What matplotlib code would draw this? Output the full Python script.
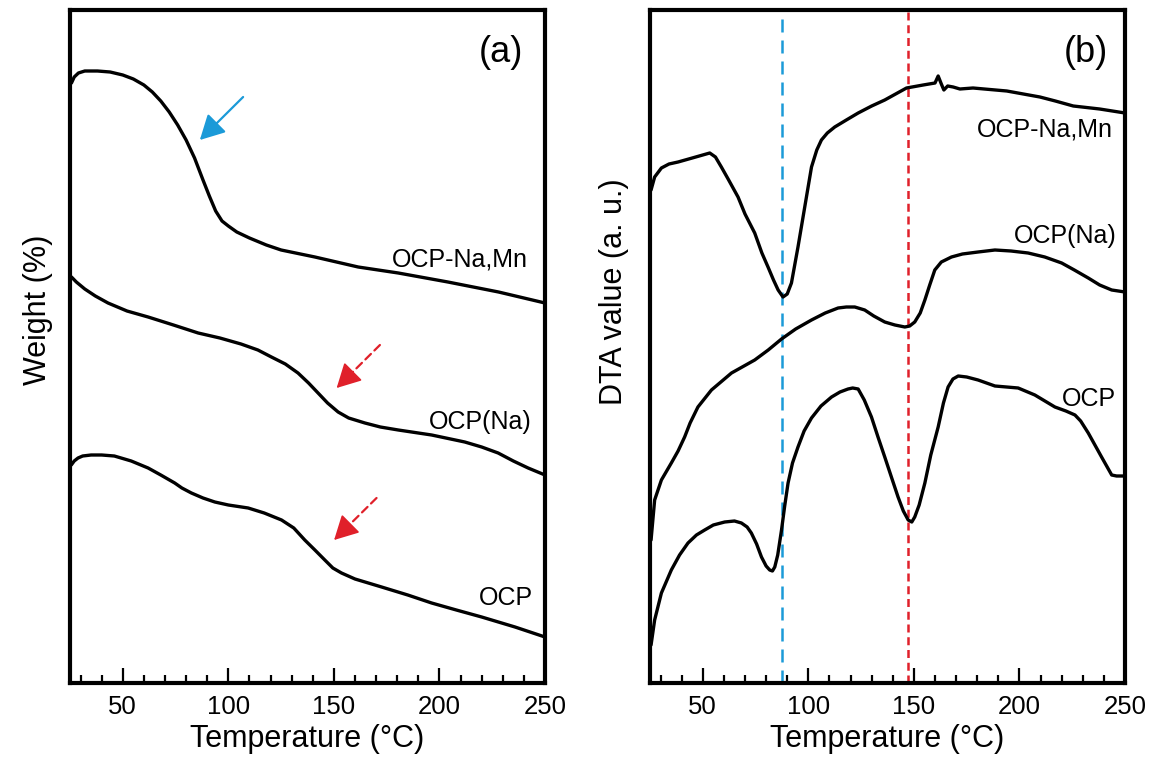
import numpy as np
import matplotlib.pyplot as plt
from matplotlib.ticker import MultipleLocator

plt.rcParams['font.family'] = ['Liberation Sans', 'DejaVu Sans']

# ---------------- (a) TG curves (arbitrary offset units) ----------------
t_namn = [25.7, 27, 29, 32, 38, 44, 50, 55, 60, 64, 68, 72, 76, 80, 84, 88, 91, 94, 97,
          100, 104, 110, 118, 125, 141, 161.5, 180.5, 204, 228, 250]
w_namn = [600, 606, 610, 612, 612, 611, 608, 604, 598, 591, 582, 571, 558, 543, 525, 503, 487, 472, 462,
          457, 451, 445, 438, 433, 426, 416, 410, 401, 391, 380]

t_na = [25.7, 28, 32, 37, 43, 52, 62, 74, 85.7, 96, 106, 114, 120.4, 127, 133, 138, 142.5, 147,
        152, 157, 164.7, 172, 180.5, 196.3, 212, 220, 227.8, 235, 242, 250]
w_na = [406, 401, 394, 387, 380, 372, 366, 358, 350, 345, 339, 333, 326, 319, 310, 300, 290, 280,
        271, 265, 260, 256, 253, 248, 241, 236, 230, 222, 215, 208]

t_ocp = [25.6, 27, 28.8, 31, 35, 40, 46, 54, 62, 68, 74.6, 78, 82.5, 88, 93.6, 100, 109.4, 117, 125.2,
         131, 136.2, 141, 145.7, 149.5, 153.6, 160, 172.6, 185, 196.3, 208, 220, 235.8, 250]
w_ocp = [218, 222, 225, 227, 228, 228, 227, 222, 215, 208, 200, 195, 190, 185, 181, 178, 175, 170, 163,
         155, 143, 133, 123, 115, 110, 104, 96, 88, 80, 73, 66, 56, 46]

# ---------------- (b) DTA curves ----------------
t_d_namn = [25.5, 27.2, 30.4, 34, 38.3, 45, 53.3, 56, 58.8, 62, 66.7, 70, 74.6, 78, 80.9, 83.5, 85.7, 88,
            90, 92, 95.1, 98.3, 101.5, 104, 106.2, 109, 112.5, 118, 123.6, 130, 136.2, 146.5, 154.4, 160,
            161.5, 163, 164.2, 166, 168.6, 171.8, 178, 194, 209.7, 217, 225.5, 238, 250]
d_namn = [493, 506, 515, 519, 521, 525, 530, 526, 516, 504, 486, 469, 450, 430, 416, 403, 393, 386,
          389, 400, 436, 476, 516, 533, 543, 550, 556, 563, 570, 577, 583, 595, 598, 600,
          607, 599, 593, 597, 596, 594, 595, 592, 586, 582, 577, 574, 570]

t_d_na = [25.5, 27.2, 30.4, 35.1, 38.3, 41.4, 44, 47.7, 54.1, 63.6, 74.6, 81, 87.3, 94, 101.5, 108, 114.1,
          118, 122, 126.7, 131, 136.2, 141, 145.7, 148, 150.4, 153, 155.2, 157.5, 159.9, 163, 167.8,
          173, 180.4, 188.4, 196, 204.1, 212, 220, 226, 232.6, 238, 243.7, 250]
d_na = [143, 183, 203, 220, 232, 246, 260, 276, 293, 310, 323, 333, 344, 354, 363, 370, 375,
        376, 376, 373, 367, 361, 358, 356, 357, 361, 370, 383, 398, 413, 421, 426,
        429, 431, 433, 432, 430, 426, 420, 413, 405, 398, 393, 391]

t_d_ocp = [25.5, 27.2, 30.4, 35.1, 39, 43, 47, 50.9, 55, 60.4, 65, 68.3, 71, 73, 75.5, 77.8, 80, 81.7,
           83, 84.1, 85.5, 87.3, 88.8, 90.4, 92.5, 95.1, 98, 101.5, 106, 111, 115, 118.8, 121,
           123.6, 126.5, 129.9, 133, 136.2, 139.5, 142.5, 145, 147.3, 149, 150.4, 152.5, 155.2,
           158, 161.5, 164, 166.2, 168.5, 171, 175, 180.4, 188.4, 199.4, 207.3, 216.8, 222, 226.3,
           229, 232.6, 238.9, 243.7, 246, 250]
d_d_ocp = [38, 63, 90, 113, 128, 140, 148, 153, 158, 161, 162, 160, 156, 150, 139, 126, 117, 113,
           112, 116, 128, 153, 177, 200, 220, 236, 252, 265, 277, 286, 291, 294, 295,
           294, 283, 266, 246, 226, 205, 186, 172, 163, 161, 166, 178, 200,
           228, 256, 280, 296, 304, 307, 306, 303, 297, 295, 288, 276, 272, 268,
           262, 250, 226, 208, 207, 207]

peak_blue = 87.7
peak_red = 147.0

# arrow annotations in panel (a): (tail, head)
blue_arrow = ((107, 586), (86.5, 543))
red_arrows = [((171.8, 338), (151.3, 295)), ((170.2, 185), (150.1, 143))]

BLACK = '#000000'
BLUE = '#1b9ad8'
RED = '#e0202a'
HEAD = '-|>,head_length=0.75,head_width=0.4'

fig = plt.figure(figsize=(11.53, 7.65), dpi=100)
ax1 = fig.add_axes([70 / 1153, 82 / 765, 475 / 1153, 673 / 765])
ax2 = fig.add_axes([650 / 1153, 82 / 765, 475 / 1153, 673 / 765])

for ax in (ax1, ax2):
    ax.set_xlim(25, 250)
    ax.set_ylim(0, 673)
    ax.xaxis.set_major_locator(MultipleLocator(50))
    ax.xaxis.set_minor_locator(MultipleLocator(10))
    ax.tick_params(axis='x', which='major', direction='in', length=11, width=1.6,
                   labelsize=18.5, pad=9, top=False)
    ax.tick_params(axis='x', which='minor', direction='in', length=5.5, width=1.6, top=False)
    ax.set_yticks([])
    for sp in ax.spines.values():
        sp.set_linewidth(3)
    ax.set_xlabel('Temperature (°C)', fontsize=22, labelpad=3)

# (a)
for t, w in ((t_namn, w_namn), (t_na, w_na), (t_ocp, w_ocp)):
    ax1.plot(t, w, color=BLACK, lw=2.4, solid_joinstyle='round', solid_capstyle='round')

ax1.annotate('', xy=blue_arrow[1], xytext=blue_arrow[0],
             arrowprops=dict(arrowstyle=HEAD, color=BLUE, lw=1.6, mutation_scale=20,
                             shrinkA=0, shrinkB=0))
for tail, head in red_arrows:
    # dashed shaft
    ax1.annotate('', xy=head, xytext=tail,
                 arrowprops=dict(arrowstyle='-', color=RED, lw=1.6, ls=(0, (3.5, 2.2)),
                                 shrinkA=0, shrinkB=12))
    # solid head
    near = (head[0] + 0.4 * (tail[0] - head[0]), head[1] + 0.4 * (tail[1] - head[1]))
    ax1.annotate('', xy=head, xytext=near,
                 arrowprops=dict(arrowstyle=HEAD, color=RED, lw=1.2, mutation_scale=20,
                                 shrinkA=14, shrinkB=0))

ax1.text(0.964, 0.619, 'OCP-Na,Mn', transform=ax1.transAxes, ha='right', va='baseline', fontsize=18)
ax1.text(0.972, 0.377, 'OCP(Na)', transform=ax1.transAxes, ha='right', va='baseline', fontsize=18)
ax1.text(0.974, 0.116, 'OCP', transform=ax1.transAxes, ha='right', va='baseline', fontsize=18)
ax1.text(0.954, 0.923, '(a)', transform=ax1.transAxes, ha='right', va='baseline', fontsize=26)
ax1.set_ylabel('Weight (%)', fontsize=22)
ax1.yaxis.set_label_coords(-0.036, 0.554)

# (b)
ax2.axvline(peak_blue, color=BLUE, lw=1.8, ls=(0, (5.2, 3.2)), zorder=1)
ax2.axvline(peak_red, color=RED, lw=1.8, ls=(0, (3.2, 1.9)), zorder=1)
for t, d in ((t_d_namn, d_namn), (t_d_na, d_na), (t_d_ocp, d_d_ocp)):
    ax2.plot(t, d, color=BLACK, lw=2.4, solid_joinstyle='round', solid_capstyle='round', zorder=2)

ax2.text(0.975, 0.812, 'OCP-Na,Mn', transform=ax2.transAxes, ha='right', va='baseline', fontsize=18)
ax2.text(0.982, 0.654, 'OCP(Na)', transform=ax2.transAxes, ha='right', va='baseline', fontsize=18)
ax2.text(0.982, 0.411, 'OCP', transform=ax2.transAxes, ha='right', va='baseline', fontsize=18)
ax2.text(0.964, 0.923, '(b)', transform=ax2.transAxes, ha='right', va='baseline', fontsize=26)
ax2.set_ylabel('DTA value (a. u.)', fontsize=22)
ax2.yaxis.set_label_coords(-0.044, 0.582)

fig.savefig('out.png', dpi=100)
